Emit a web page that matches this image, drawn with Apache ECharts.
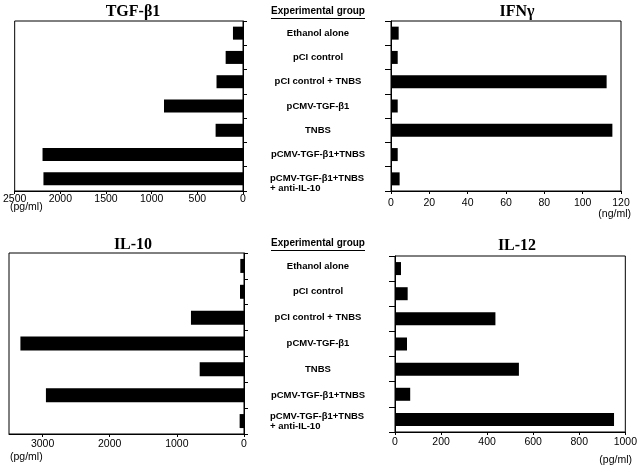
<!DOCTYPE html>
<html>
<head>
<meta charset="utf-8">
<script src="https://cdn.jsdelivr.net/npm/echarts@6/dist/echarts.min.js"></script>
<style>
html, body { margin: 0; padding: 0; background: #fff; }
#chart { width: 640px; height: 467px; }
</style>
</head>
<body>
<div id="chart"></div>
<script>
// groups, top to bottom
var groups = ['Ethanol alone', 'pCI control', 'pCI control + TNBS', 'pCMV-TGF-β1', 'TNBS', 'pCMV-TGF-β1+TNBS', 'pCMV-TGF-β1+TNBS\n+ anti-IL-10']

// cytokine levels
var tgfB1 = [110, 190, 290, 865, 300, 2195, 2185]   // pg/ml
var ifnG = [4, 3.5, 112.5, 3.5, 115.5, 3.5, 4.5]     // ng/ml
var il10 = [55, 60, 790, 3330, 660, 2950, 65]        // pg/ml
var il12 = [26, 55, 436, 52, 538, 66, 951]           // pg/ml

var panelTitles = ['TGF-β1', 'IFNγ', 'IL-10', 'IL-12']
var units = ['(pg/ml)', '(ng/ml)', '(pg/ml)', '(pg/ml)']

var sans = '"Liberation Sans", Arial, sans-serif'
var serif = '"Liberation Serif", "Times New Roman", serif'

var chart = echarts.init(document.getElementById('chart'))

// two-line group: keep second line flush left under the first
function groupLabel(dropFirst) {
  return function (v) {
    if (v.indexOf('\n') > -1) {
      var parts = v.split('\n')
      return (dropFirst ? '\n' : '') + '{w|' + parts[0] + '}\n{w|' + parts[1] + '}'
    }
    return v
  }
}

function catAxis(gridIndex, onRight, showLabels, margin, dropFirst) {
  return {
    type: 'category',
    gridIndex: gridIndex,
    data: groups,
    inverse: true,
    position: onRight ? 'right' : 'left',
    axisLine: { lineStyle: { color: '#000', width: 1 } },
    axisTick: { show: true, length: onRight ? 4 : 6, lineStyle: { color: '#000' } },
    axisLabel: {
      show: showLabels,
      margin: margin,
      align: 'center',
      color: '#000',
      fontFamily: sans,
      fontWeight: 'bold',
      fontSize: 9.5,
      lineHeight: 10,
      formatter: groupLabel(dropFirst),
      rich: {
        w: { width: 96, align: 'left', fontFamily: sans, fontWeight: 'bold', fontSize: 9.5, lineHeight: 10, color: '#000' }
      }
    },
    splitLine: { show: false }
  }
}

function valAxis(gridIndex, inverse, max, interval, labelMargin) {
  return {
    type: 'value',
    gridIndex: gridIndex,
    inverse: inverse,
    min: 0,
    max: max,
    interval: interval,
    axisLine: { show: true, lineStyle: { color: '#000', width: 1 } },
    axisTick: { show: true, length: 3, lineStyle: { color: '#000' } },
    axisLabel: {
      color: '#000', fontFamily: sans, fontSize: 10.5, margin: labelMargin,
      showMaxLabel: max % interval === 0,
      formatter: function (v) { return String(v) }
    },
    splitLine: { show: false }
  }
}

function barSeries(idx, data, width) {
  return {
    type: 'bar',
    xAxisIndex: idx,
    yAxisIndex: idx,
    data: data,
    barWidth: width,
    itemStyle: { color: '#000' },
    silent: true
  }
}

var gridBase = { show: true, borderColor: '#000', borderWidth: 1, backgroundColor: 'transparent' }
var titleStyle = { fontFamily: serif, fontSize: 16, fontWeight: 'bold', color: '#000' }

var option = {
  animation: false,
  backgroundColor: '#fff',
  title: [
    { text: panelTitles[0], left: 128, top: -1, textAlign: 'center', textStyle: titleStyle },
    { text: panelTitles[1], left: 512, top: -1, textAlign: 'center', textStyle: titleStyle },
    { text: panelTitles[2], left: 128, top: 232, textAlign: 'center', textStyle: titleStyle },
    { text: panelTitles[3], left: 512, top: 233, textAlign: 'center', textStyle: titleStyle }
  ],
  grid: [
    Object.assign({ left: 11, right: 397, top: 21, bottom: 276 }, gridBase),
    Object.assign({ left: 391, right: 19, top: 21, bottom: 276 }, gridBase),
    Object.assign({ left: 9, right: 396, top: 253, bottom: 33 }, gridBase),
    Object.assign({ left: 395, right: 14, top: 256, bottom: 35 }, gridBase)
  ],
  xAxis: [
    valAxis(0, true, 2500, 500, 3),
    valAxis(1, false, 120, 20, 7),
    valAxis(2, true, 3500, 1000, 5),
    valAxis(3, false, 1000, 200, 5)
  ],
  yAxis: [
    catAxis(0, true, true, 75, true),
    catAxis(1, false, false, 8, false),
    catAxis(2, true, true, 74, false),
    catAxis(3, false, false, 8, false)
  ],
  series: [
    barSeries(0, tgfB1, 13),
    barSeries(1, ifnG, 13),
    barSeries(2, il10, 14),
    barSeries(3, il12, 13)
  ],
  graphic: [
    { type: 'text', left: 10, top: 202, style: { text: units[0], fontFamily: sans, fontSize: 10.5, fill: '#000' } },
    { type: 'text', right: 9, top: 209, style: { text: units[1], fontFamily: sans, fontSize: 10.5, fill: '#000' } },
    { type: 'text', left: 10, top: 452, style: { text: units[2], fontFamily: sans, fontSize: 10.5, fill: '#000' } },
    { type: 'text', right: 8, top: 455, style: { text: units[3], fontFamily: sans, fontSize: 10.5, fill: '#000' } },
    // middle column headings
    { type: 'text', x: 318, y: 6, style: { text: 'Experimental group', align: 'center', fontFamily: sans, fontSize: 10, fontWeight: 'bold', fill: '#000' } },
    { type: 'line', shape: { x1: 271, y1: 18.5, x2: 365, y2: 18.5 }, style: { stroke: '#000', lineWidth: 1 } },
    { type: 'text', x: 318, y: 238, style: { text: 'Experimental group', align: 'center', fontFamily: sans, fontSize: 10, fontWeight: 'bold', fill: '#000' } },
    { type: 'line', shape: { x1: 271, y1: 250.5, x2: 365, y2: 250.5 }, style: { stroke: '#000', lineWidth: 1 } }
  ]
}

chart.setOption(option)
</script>
</body>
</html>
